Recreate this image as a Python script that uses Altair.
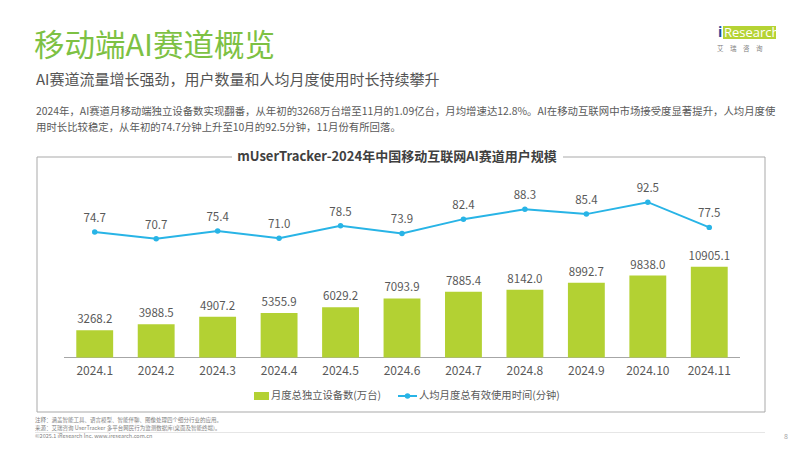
import altair as alt
import pandas as pd

months = ["2024.1", "2024.2", "2024.3", "2024.4", "2024.5", "2024.6",
          "2024.7", "2024.8", "2024.9", "2024.10", "2024.11"]
devices = [3268.2, 3988.5, 4907.2, 5355.9, 6029.2, 7093.9,
           7885.4, 8142.0, 8992.7, 9838.0, 10905.1]
minutes = [74.7, 70.7, 75.4, 71.0, 78.5, 73.9, 82.4, 88.3, 85.4, 92.5, 77.5]

title = "移动端AI赛道概览"
subtitle = "AI赛道流量增长强劲，用户数量和人均月度使用时长持续攀升"
para1 = ("2024年，AI赛道月移动端独立设备数实现翻番，从年初的3268万台增至11月的1.09亿台，"
         "月均增速达12.8%。AI在移动互联网中市场接受度显著提升，人均月度使")
para2 = "用时长比较稳定，从年初的74.7分钟上升至10月的92.5分钟，11月份有所回落。"
chart_title = "mUserTracker-2024年中国移动互联网AI赛道用户规模"
legend_bar = "月度总独立设备数(万台)"
legend_line = "人均月度总有效使用时间(分钟)"
note1 = "注释：涵盖智能工具、语言模型、智能伴聊、图像处理四个细分行业的应用。"
note2 = "来源：艾瑞咨询 UserTracker 多平台网民行为监测数据库(桌面及智能终端)。"
note3 = "©2025.1 iResearch Inc. www.iresearch.com.cn"

FONT = "Noto Sans CJK SC"
GREEN_BAR = "#b3d133"
BLUE = "#28b4e6"
TITLE_GREEN = "#7dc143"
GRAY = "#595959"
FRAME = "#a9a9a9"

df = pd.DataFrame({"month": months, "devices": devices, "minutes": minutes})

xscale = alt.Scale(domain=months, range=[56, 732], paddingInner=0.4, paddingOuter=0.2)
X = alt.X("month:N", scale=xscale, axis=None, sort=months)
ybar = alt.Scale(domain=[0, 12000], range=[349.5, 249.6], zero=True, nice=False)
yline = alt.Scale(domain=[0, 100], range=[349.5, 181.6], zero=True, nice=False)

base = alt.Chart(df)

bars = base.mark_bar(color=GREEN_BAR).encode(
    x=X, y=alt.Y("devices:Q", scale=ybar, axis=None))
bar_labels = base.mark_text(font=FONT, fontSize=11.5, color=GRAY, baseline="bottom", dy=-5).encode(
    x=X, y=alt.Y("devices:Q", scale=ybar, axis=None),
    text=alt.Text("devices:Q", format=".1f"))
line = base.mark_line(color=BLUE, strokeWidth=2).encode(
    x=X, y=alt.Y("minutes:Q", scale=yline, axis=None))
pts = base.mark_point(color=BLUE, filled=True, size=30, opacity=1).encode(
    x=X, y=alt.Y("minutes:Q", scale=yline, axis=None))
line_labels = base.mark_text(font=FONT, fontSize=11.5, color=GRAY, baseline="bottom", dy=-8).encode(
    x=X, y=alt.Y("minutes:Q", scale=yline, axis=None),
    text=alt.Text("minutes:Q", format=".1f"))
xlabels = base.mark_text(font=FONT, fontSize=12, color=GRAY, baseline="middle").encode(
    x=X, y=alt.value(363), text="month:N")


def one():
    return alt.Chart(pd.DataFrame({"k": [0]}))


def txt(s, x, y, size, color=GRAY, align="left", weight="normal", font=FONT, baseline="middle"):
    return alt.Chart(pd.DataFrame({"t": [s]})).mark_text(
        font=font, fontSize=size, color=color, align=align, baseline=baseline, fontWeight=weight
    ).encode(x=alt.value(x), y=alt.value(y), text="t:N")


def hrule(x1, x2, y, color=FRAME, w=1):
    return one().mark_rule(color=color, strokeWidth=w).encode(
        x=alt.value(x1), x2=alt.value(x2), y=alt.value(y))


def vrule(x, y1, y2, color=FRAME, w=1):
    return one().mark_rule(color=color, strokeWidth=w).encode(
        x=alt.value(x), y=alt.value(y1), y2=alt.value(y2))


baseline_rule = hrule(56, 732, 349.5, color="#a6a6a6", w=1)

frame = [
    hrule(29, 224, 149), hrule(555, 757, 149),
    vrule(29, 149, 404), vrule(757, 149, 404), hrule(29, 757, 404),
]

texts = [
    txt(title, 26, 39, 30.5, color=TITLE_GREEN),
    txt(subtitle, 28, 72, 15, color="#555555"),
    txt(para1, 28, 104, 10.4),
    txt(para2, 28, 120, 10.4),
    txt(chart_title, 389, 149, 13, color="#404040", align="center", weight="bold"),
    txt(legend_bar, 263, 388, 10.3),
    txt(legend_line, 411, 388, 10.3),
    txt(note1, 27, 412, 5.5, color="#7f7f7f"),
    txt(note2, 27, 420, 5.5, color="#7f7f7f"),
    txt(note3, 27, 428, 5.5, color="#7f7f7f"),
    txt("8", 776, 429, 7, color="#a6a6a6"),
    txt("艾\u2003瑞\u2003咨\u2003询", 709, 41, 6.5, color="#7f7f7f"),
]

legend_marks = [
    one().mark_rect(color=GREEN_BAR).encode(
        x=alt.value(246), x2=alt.value(261), y=alt.value(384), y2=alt.value(392)),
    hrule(390, 409, 388, color=BLUE, w=2),
    one().mark_point(color=BLUE, filled=True, size=30, opacity=1).encode(
        x=alt.value(399.5), y=alt.value(388)),
]

logo = [
    one().mark_rect(color="#b5d334").encode(
        x=alt.value(715), x2=alt.value(768), y=alt.value(18), y2=alt.value(31)),
    txt("i", 710, 25, 14, color="#1f4e9b", weight="bold", font="Open Sans"),
    txt("Research", 716, 25, 13, color="white", font="Open Sans"),
]

footer_line = hrule(27, 757, 424.5, color="#e6e6e6")

chart = alt.layer(
    *frame, footer_line, baseline_rule, bars, bar_labels, line, pts, line_labels, xlabels,
    *texts, *legend_marks, *logo
).resolve_scale(y="independent").properties(
    width=786, height=435, autosize=alt.AutoSizeParams(type="none"), padding=0,
    background="white"
).configure_view(stroke=None)

chart.save("out.html", embed_options={"renderer": "svg", "actions": False})
